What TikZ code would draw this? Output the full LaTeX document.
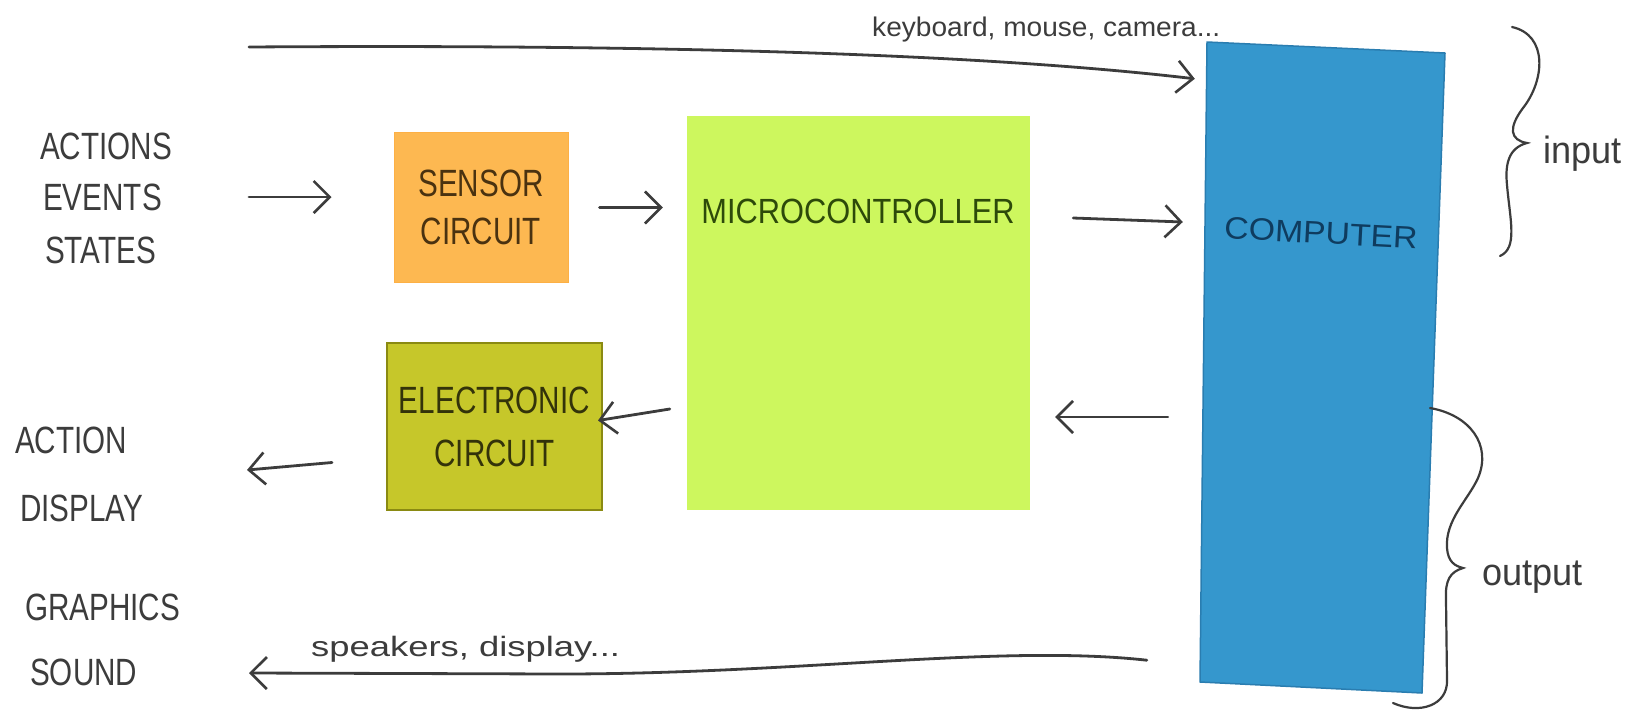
\documentclass[tikz,border=0pt]{standalone}
\usepackage{fontspec}
\setmainfont{Liberation Sans}
\newfontfamily\handN[FakeStretch=0.78]{Liberation Sans}
\newfontfamily\handM[FakeStretch=0.88]{Liberation Sans}
\newfontfamily\handW[FakeStretch=1.09]{Liberation Sans}
\newfontfamily\handK[FakeStretch=1.04]{Liberation Sans}
\newfontfamily\handL[FakeStretch=1.3]{Liberation Sans}
\newfontfamily\handP[FakeStretch=0.95]{Liberation Sans}
\usetikzlibrary{arrows.meta,calc}

\definecolor{ink}{HTML}{3C3C3C}
\definecolor{sensorc}{HTML}{FDB851}
\definecolor{sensortxt}{HTML}{4A3210}
\definecolor{microc}{HTML}{CDF75E}
\definecolor{microtxt}{HTML}{2D4A0A}
\definecolor{elecc}{HTML}{C6C72A}
\definecolor{elecedge}{HTML}{8A8A12}
\definecolor{electxt}{HTML}{33330A}
\definecolor{compc}{HTML}{3597CD}
\definecolor{compedge}{HTML}{2A7DB0}
\definecolor{comptxt}{HTML}{0F3C5F}

\begin{document}
\begin{tikzpicture}[x=1pt,y=-1pt,
  lbl/.style={inner sep=0pt, text=ink, font=\handN\fontsize{38}{48}\selectfont, anchor=west},
  note/.style={inner sep=0pt, text=ink, anchor=base west},
  arr/.style={draw=ink, line width=2.8pt, line cap=round, line join=round,
    -{Straight Barb[length=16pt,width=32pt,line width=2.6pt]}},
  brc/.style={draw=ink, line width=2.2pt, line cap=round},
  blockbox/.style={inner sep=0pt, align=center},
]
\useasboundingbox (0,0) rectangle (1625,713);
\fill[white] (0,0) rectangle (1625,713);

% left-hand labels
\node[lbl] (actions)  at (40,146)  {ACTIONS};
\node[lbl] (events)   at (43,197)  {EVENTS};
\node[lbl] (states)   at (45,250)  {STATES};
\node[lbl] (action)   at (15,440)  {ACTION};
\node[lbl] (display)  at (20,508)  {DISPLAY};
\node[lbl] (graphics) at (25,607)  {GRAPHICS};
\node[lbl] (sound)    at (30,672)  {SOUND};

% blocks
\node[blockbox, fill=sensorc, draw=sensorc!85!orange, line width=1pt,
      minimum width=174pt, minimum height=150pt, text=sensortxt,
      font=\handN\fontsize{38}{48}\selectfont] (sensor) at (481,207.5) {SENSOR\\CIRCUIT};
\node[blockbox, fill=elecc, draw=elecedge, line width=2pt,
      minimum width=215pt, minimum height=167pt, text=electxt,
      font=\handN\fontsize{38}{53}\selectfont] (electronic) at (494.5,426.5) {ELECTRONIC\\CIRCUIT};
\node[blockbox, fill=microc, minimum width=343pt, minimum height=394pt] (micro) at (858.5,313) {};
\node[inner sep=0pt, text=microtxt, font=\handM\fontsize{35}{40}\selectfont] (microlbl) at (858,211) {MICROCONTROLLER};

% computer: slightly skewed hand-drawn block
\fill[compc, draw=compedge, line width=1.5pt, line join=round]
  (1207,42) -- (1445,53) -- (1422,693) -- (1200,682) -- cycle;
\node[inner sep=0pt, minimum width=238pt, minimum height=648pt] (computer) at (1323,367) {};
\node[inner sep=0pt, text=comptxt, rotate=-3, font=\handW\fontsize{31}{36}\selectfont] (complbl) at (1321,233) {COMPUTER};

% free ends
\coordinate (kbin)   at (249,47);
\coordinate (outact) at (247,470);
\coordinate (outsnd) at (249,673);

% connectors
\draw[arr, shorten <=87pt, shorten >=62pt] (events.east) -- (events.east -| sensor.west);
\draw[arr, shorten <=31pt, shorten >=24pt] (sensor.east) -- (sensor.east -| micro.west);
\draw[arr] ($(micro.east)+(43,-95)$) -- ($(computer.west)+(-21,-145)$);
\draw[arr] ($(computer.west)+(-36,50)$) -- ($(micro.east)+(25,104)$);
\draw[arr] ($(micro.west)+(-17,96)$) -- ($(electronic.east)+(-5,-6)$);
\draw[arr] ($(electronic.west)+(-54,36)$) -- (outact);
\draw[arr] (kbin) .. controls (700,44) and (1000,56) .. ($(computer.north west)+(-9,36)$);
\draw[arr] ($(computer.south west)+(-57,-31)$) .. controls (1000,644) and (800,674) .. (560,674) -- (outsnd);

% connector notes
\node[note, font=\handK\fontsize{27}{30}\selectfont] (kbd) at (872,36) {keyboard, mouse, camera...};
\node[note, font=\handL\fontsize{28}{30}\selectfont] (spk) at (311,656) {speakers, display...};

% braces
\draw[brc] (1512,27) .. controls (1548,35) and (1545,80) .. (1523,108)
  .. controls (1508,128) and (1510,140) .. (1527,143)
  .. controls (1508,148) and (1505,165) .. (1507,185)
  .. controls (1510,220) and (1518,248) .. (1500,256);
\draw[brc] (1430,408) .. controls (1470,415) and (1492,445) .. (1478,478)
  .. controls (1468,500) and (1445,520) .. (1447,548)
  .. controls (1448,562) and (1455,566) .. (1463,568)
  .. controls (1450,572) and (1445,580) .. (1446,600)
  -- (1447,680) .. controls (1448,705) and (1420,715) .. (1393,703);
\node[note, font=\handP\fontsize{38}{40}\selectfont] (inp)  at (1543,163) {input};
\node[note, font=\handP\fontsize{38}{40}\selectfont] (outp) at (1482,585) {output};
\end{tikzpicture}
\end{document}
